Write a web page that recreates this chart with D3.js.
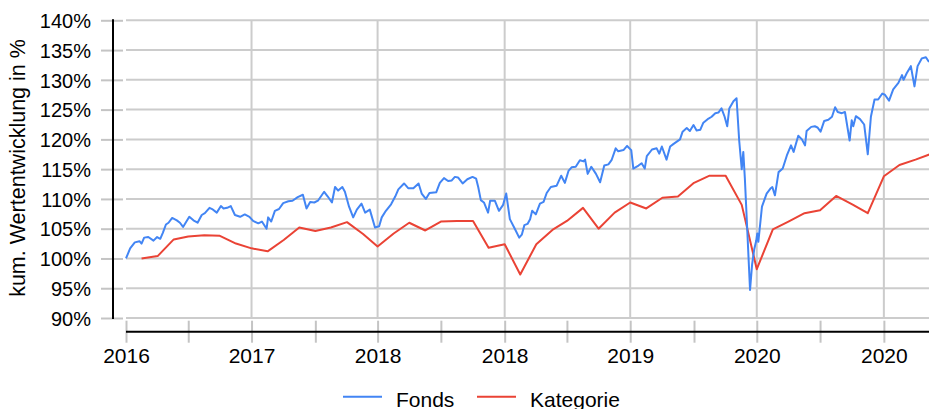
<!DOCTYPE html>
<html lang="de">
<head>
    <meta charset="UTF-8">
    <title>Kumulierte Wertentwicklung</title>
    <script src="https://d3js.org/d3.v7.min.js"></script>
    <style>
        body {
            margin: 0;
            background: #fff;
            font-family: "Liberation Sans", Arial, sans-serif;
        }
        svg text {
            fill: #000;
        }
        .grid line {
            stroke: #cccccc;
            stroke-width: 2;
        }
        .series {
            fill: none;
            stroke-width: 2;
            stroke-linejoin: round;
        }
    </style>
</head>
<body>
    <svg id="chart" width="929" height="409"></svg>

    <script>
        // Data (values in %)
        const fonds = [
            ["2016-11-01", 100.0], ["2016-11-09", 101.7], ["2016-11-18", 102.7], ["2016-11-27", 102.9],
            ["2016-12-01", 102.5], ["2016-12-06", 103.5], ["2016-12-14", 103.6], ["2016-12-24", 103.0],
            ["2016-12-31", 103.6], ["2017-01-06", 103.3], ["2017-01-11", 104.3], ["2017-01-17", 105.7],
            ["2017-01-22", 106.0], ["2017-01-29", 106.8], ["2017-02-07", 106.4], ["2017-02-13", 106.0],
            ["2017-02-19", 105.3], ["2017-03-03", 107.0], ["2017-03-11", 106.4], ["2017-03-19", 106.0],
            ["2017-03-27", 107.3], ["2017-04-02", 107.6], ["2017-04-11", 108.5], ["2017-04-16", 108.3],
            ["2017-04-25", 107.7], ["2017-05-03", 108.8], ["2017-05-08", 108.4], ["2017-05-15", 108.5],
            ["2017-05-22", 108.8], ["2017-05-30", 107.3], ["2017-06-09", 107.0], ["2017-06-18", 107.4],
            ["2017-06-27", 107.0], ["2017-07-04", 106.3], ["2017-07-14", 105.9], ["2017-07-21", 106.2],
            ["2017-07-30", 105.0], ["2017-08-02", 106.9], ["2017-08-08", 106.2], ["2017-08-15", 108.0],
            ["2017-08-23", 108.3], ["2017-08-31", 109.3], ["2017-09-10", 109.6], ["2017-09-18", 109.7],
            ["2017-09-28", 110.3], ["2017-10-08", 110.7], ["2017-10-15", 108.4], ["2017-10-22", 109.5],
            ["2017-10-30", 109.4], ["2017-11-06", 109.7], ["2017-11-18", 111.2], ["2017-11-25", 110.4],
            ["2017-12-03", 109.4], ["2017-12-09", 112.0], ["2017-12-15", 111.4], ["2017-12-23", 112.0],
            ["2017-12-28", 111.2], ["2018-01-05", 108.7], ["2018-01-13", 106.9], ["2018-01-20", 108.2],
            ["2018-01-29", 109.2], ["2018-02-05", 107.7], ["2018-02-14", 108.2], ["2018-02-24", 105.2],
            ["2018-03-04", 105.4], ["2018-03-09", 106.9], ["2018-03-17", 108.0], ["2018-03-27", 109.1],
            ["2018-04-04", 110.4], ["2018-04-10", 111.6], ["2018-04-21", 112.6], ["2018-04-29", 111.8],
            ["2018-05-09", 111.8], ["2018-05-19", 112.6], ["2018-05-25", 110.9], ["2018-06-02", 110.0],
            ["2018-06-09", 111.0], ["2018-06-22", 111.1], ["2018-06-29", 112.7], ["2018-07-07", 113.5],
            ["2018-07-15", 113.0], ["2018-07-22", 113.1], ["2018-07-28", 113.7], ["2018-08-03", 113.6],
            ["2018-08-12", 112.6], ["2018-08-21", 113.3], ["2018-08-31", 113.7], ["2018-09-07", 113.4],
            ["2018-09-11", 112.0], ["2018-09-16", 109.8], ["2018-09-22", 109.4], ["2018-09-30", 107.7],
            ["2018-10-04", 109.7], ["2018-10-13", 109.7], ["2018-10-21", 108.0], ["2018-10-29", 109.0],
            ["2018-11-04", 110.9], ["2018-11-11", 106.6], ["2018-11-21", 104.9], ["2018-11-29", 103.5],
            ["2018-12-04", 104.0], ["2018-12-09", 105.6], ["2018-12-15", 105.8], ["2018-12-20", 106.6],
            ["2018-12-24", 108.0], ["2018-12-31", 107.4], ["2019-01-08", 109.2], ["2019-01-15", 109.5],
            ["2019-01-21", 111.0], ["2019-01-29", 112.0], ["2019-02-09", 112.2], ["2019-02-18", 113.9],
            ["2019-02-25", 112.7], ["2019-03-04", 114.7], ["2019-03-10", 115.3], ["2019-03-18", 115.4],
            ["2019-03-26", 116.5], ["2019-04-02", 116.3], ["2019-04-05", 116.6], ["2019-04-10", 114.2],
            ["2019-04-17", 115.4], ["2019-04-26", 114.2], ["2019-05-04", 112.8], ["2019-05-12", 115.6],
            ["2019-05-20", 115.8], ["2019-05-26", 116.5], ["2019-06-03", 118.5], ["2019-06-08", 118.0],
            ["2019-06-18", 118.2], ["2019-06-25", 118.9], ["2019-07-03", 118.2], ["2019-07-07", 115.1],
            ["2019-07-17", 115.6], ["2019-07-23", 116.0], ["2019-07-29", 115.1], ["2019-08-02", 117.2],
            ["2019-08-12", 118.3], ["2019-08-21", 118.5], ["2019-08-26", 117.6], ["2019-08-31", 118.8],
            ["2019-09-09", 116.6], ["2019-09-16", 118.8], ["2019-09-22", 119.2], ["2019-10-05", 120.0],
            ["2019-10-10", 121.3], ["2019-10-18", 121.9], ["2019-10-24", 121.4], ["2019-10-31", 122.4],
            ["2019-11-06", 121.5], ["2019-11-13", 121.6], ["2019-11-19", 122.8], ["2019-11-29", 123.5],
            ["2019-12-05", 123.8], ["2019-12-12", 124.4], ["2019-12-18", 124.5], ["2019-12-24", 125.2],
            ["2019-12-30", 123.8], ["2020-01-04", 122.2], ["2020-01-08", 125.2], ["2020-01-16", 126.4],
            ["2020-01-22", 126.9], ["2020-01-27", 119.9], ["2020-02-01", 115.0], ["2020-02-04", 117.9],
            ["2020-02-07", 113.5], ["2020-02-17", 94.7], ["2020-02-21", 99.0], ["2020-02-25", 101.5],
            ["2020-02-29", 103.0], ["2020-03-02", 104.2], ["2020-03-04", 102.8], ["2020-03-11", 108.7],
            ["2020-03-20", 110.9], ["2020-03-28", 111.8], ["2020-03-31", 112.0], ["2020-04-05", 110.6],
            ["2020-04-12", 114.5], ["2020-04-20", 115.1], ["2020-04-28", 117.3], ["2020-05-06", 119.0],
            ["2020-05-11", 117.9], ["2020-05-20", 120.6], ["2020-05-27", 120.0], ["2020-06-02", 119.0],
            ["2020-06-05", 121.4], ["2020-06-14", 122.1], ["2020-06-21", 122.2], ["2020-06-26", 122.0],
            ["2020-07-02", 121.3], ["2020-07-09", 123.1], ["2020-07-17", 123.3], ["2020-07-24", 123.8],
            ["2020-07-30", 125.4], ["2020-08-04", 124.6], ["2020-08-12", 124.4], ["2020-08-18", 124.6],
            ["2020-08-27", 119.8], ["2020-08-31", 123.2], ["2020-09-03", 122.2], ["2020-09-08", 123.9],
            ["2020-09-16", 123.4], ["2020-09-24", 122.5], ["2020-10-01", 117.5], ["2020-10-07", 123.8],
            ["2020-10-14", 126.7], ["2020-10-21", 126.7], ["2020-10-29", 127.7], ["2020-11-03", 127.5],
            ["2020-11-11", 126.5], ["2020-11-19", 128.4], ["2020-11-29", 129.5], ["2020-12-06", 130.8],
            ["2020-12-09", 130.0], ["2020-12-15", 131.1], ["2020-12-23", 132.3], ["2020-12-30", 128.9],
            ["2021-01-05", 132.3], ["2021-01-13", 133.6], ["2021-01-21", 133.8], ["2021-01-27", 133.0]
        ];

        const kategorie = [
            ["2016-12-01", 100.0], ["2017-01-01", 100.4], ["2017-02-01", 103.2], ["2017-03-01", 103.7],
            ["2017-04-01", 103.9], ["2017-05-01", 103.8], ["2017-06-01", 102.5], ["2017-07-01", 101.7],
            ["2017-08-01", 101.2], ["2017-09-01", 103.1], ["2017-10-01", 105.2], ["2017-11-01", 104.6],
            ["2017-12-01", 105.2], ["2018-01-01", 106.1], ["2018-02-01", 104.1], ["2018-03-01", 102.0],
            ["2018-04-01", 104.2], ["2018-05-01", 106.0], ["2018-06-01", 104.7], ["2018-07-01", 106.2],
            ["2018-08-01", 106.3], ["2018-09-01", 106.3], ["2018-10-01", 101.8], ["2018-11-01", 102.4],
            ["2018-12-01", 97.3], ["2019-01-01", 102.4], ["2019-02-01", 104.8], ["2019-03-01", 106.3],
            ["2019-04-01", 108.5], ["2019-05-01", 105.0], ["2019-06-01", 107.7], ["2019-07-01", 109.4],
            ["2019-08-01", 108.4], ["2019-09-01", 110.2], ["2019-10-01", 110.4], ["2019-11-01", 112.7],
            ["2019-12-01", 113.9], ["2020-01-01", 113.9], ["2020-02-01", 109.0], ["2020-03-01", 98.2],
            ["2020-04-01", 104.9], ["2020-05-01", 106.2], ["2020-06-01", 107.6], ["2020-07-01", 108.1],
            ["2020-08-01", 110.5], ["2020-09-01", 109.1], ["2020-10-01", 107.6], ["2020-11-01", 113.8],
            ["2020-12-01", 115.7], ["2021-01-01", 116.6], ["2021-02-01", 117.6]
        ];

        const xTickDates = ["2016-11-01", "2017-07-01", "2018-03-01", "2018-11-01", "2019-07-01", "2020-03-01", "2020-11-01"];
        const xTickLabels = ["2016", "2017", "2018", "2018", "2019", "2020", "2020"];
        const xMinorDates = ["2017-03-01", "2017-11-01", "2018-07-01", "2019-03-01", "2019-11-01", "2020-07-01"];
        const xDomain = ["2016-11-01", "2021-01-27"];
        const yTicks = [90, 95, 100, 105, 110, 115, 120, 125, 130, 135, 140];
        const yTickLabels = ["90%", "95%", "100%", "105%", "110%", "115%", "120%", "125%", "130%", "135%", "140%"];

        const seriesInfo = [
            { name: "Fonds", data: fonds, color: "#4285f4" },
            { name: "Kategorie", data: kategorie, color: "#ea4335" }
        ];

        // Layout
        const svg = d3.select("#chart");
        const plot = { left: 126, right: 929, top: 20.3, bottom: 318 };
        const yAxisX = 113, xAxisY = 331.7;
        const parse = d3.timeParse("%Y-%m-%d");

        const x = d3.scaleTime()
            .domain(xDomain.map(parse))
            .range([plot.left, plot.right]);
        const y = d3.scaleLinear()
            .domain([90, 140])
            .range([plot.bottom, plot.top]);

        // Horizontal grid
        svg.append("g").attr("class", "grid")
            .selectAll("line").data(yTicks).join("line")
            .attr("x1", plot.left).attr("x2", plot.right)
            .attr("y1", d => y(d)).attr("y2", d => y(d));

        // Vertical grid at major ticks (not at the first one)
        svg.append("g").attr("class", "grid")
            .selectAll("line").data(xTickDates.slice(1).map(parse)).join("line")
            .attr("x1", d => x(d)).attr("x2", d => x(d))
            .attr("y1", plot.top).attr("y2", plot.bottom);

        // Y axis
        const yAxis = svg.append("g")
            .attr("transform", `translate(${yAxisX},0)`)
            .call(d3.axisLeft(y).tickValues(yTicks).tickFormat((d, i) => yTickLabels[i]).tickSize(12));
        yAxis.select(".domain").remove();
        yAxis.selectAll(".tick line")
            .attr("x1", -12).attr("x2", 10)
            .attr("stroke", "#c4c4c4").attr("stroke-width", 2);
        yAxis.selectAll(".tick text")
            .attr("x", -22).attr("dy", "0.36em")
            .style("font-size", "20px")
            .style("font-family", "'Liberation Sans', Arial, sans-serif");
        yAxis.append("line")
            .attr("x1", 0).attr("x2", 0)
            .attr("y1", plot.top - 1).attr("y2", plot.bottom + 1)
            .attr("stroke", "#000").attr("stroke-width", 2);

        // X axis: minor ticks
        const xMinor = svg.append("g")
            .attr("transform", `translate(0,${xAxisY})`)
            .call(d3.axisBottom(x).tickValues(xMinorDates.map(parse)).tickFormat("").tickSize(10));
        xMinor.select(".domain").remove();
        xMinor.selectAll(".tick line")
            .attr("y1", -11).attr("y2", 11)
            .attr("stroke", "#c4c4c4").attr("stroke-width", 2);

        // X axis: major ticks with labels
        const xAxis = svg.append("g")
            .attr("transform", `translate(0,${xAxisY})`)
            .call(d3.axisBottom(x).tickValues(xTickDates.map(parse)).tickFormat((d, i) => xTickLabels[i]).tickSize(10));
        xAxis.select(".domain").remove();
        xAxis.selectAll(".tick line")
            .attr("y1", -11).attr("y2", 11)
            .attr("stroke", "#c4c4c4").attr("stroke-width", 2);
        xAxis.selectAll(".tick text")
            .attr("y", 31.5).attr("dy", 0)
            .style("font-size", "21px")
            .style("font-family", "'Liberation Sans', Arial, sans-serif");
        xAxis.append("line")
            .attr("x1", plot.left).attr("x2", plot.right)
            .attr("y1", 0).attr("y2", 0)
            .attr("stroke", "#000").attr("stroke-width", 2);

        // Y axis title
        svg.append("text")
            .attr("transform", `translate(25,168) rotate(-90)`)
            .attr("text-anchor", "middle")
            .style("font-size", "21.5px")
            .text("kum. Wertentwicklung in %");

        // Clip for the lines
        svg.append("defs").append("clipPath").attr("id", "clip")
            .append("rect")
            .attr("x", plot.left - 2).attr("y", 0)
            .attr("width", plot.right - plot.left + 2).attr("height", plot.bottom + 10);

        const line = d3.line()
            .x(d => x(parse(d[0])))
            .y(d => y(d[1]));

        svg.append("g").attr("clip-path", "url(#clip)")
            .selectAll("path").data(seriesInfo.slice().reverse()).join("path")
            .attr("class", "series")
            .attr("stroke", d => d.color)
            .attr("d", d => line(d.data));

        // Legend
        const legendItems = [
            { x: 343, info: seriesInfo[0] },
            { x: 477, info: seriesInfo[1] }
        ];
        const legend = svg.append("g");
        legend.selectAll("line").data(legendItems).join("line")
            .attr("x1", d => d.x).attr("x2", d => d.x + 39)
            .attr("y1", 396.7).attr("y2", 396.7)
            .attr("stroke", d => d.info.color).attr("stroke-width", 2);
        legend.selectAll("text").data(legendItems).join("text")
            .attr("x", d => d.x + 53).attr("y", 406.5)
            .style("font-size", "21px")
            .text(d => d.info.name);
    </script>
</body>
</html>
